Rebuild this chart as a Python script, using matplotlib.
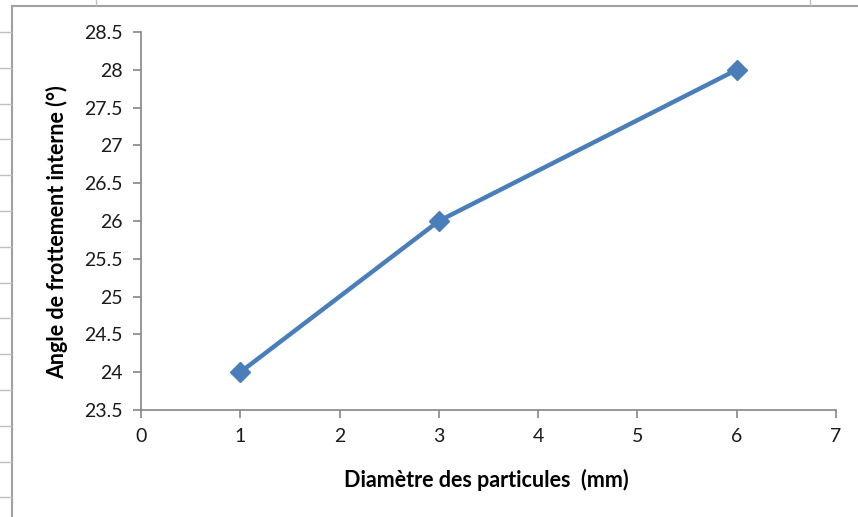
import matplotlib.pyplot as plt
from matplotlib.lines import Line2D

# data
diametre = [1, 3, 6]
angle = [24, 26, 28]
x_ticks = [0, 1, 2, 3, 4, 5, 6, 7]
y_ticks = [23.5, 24, 24.5, 25, 25.5, 26, 26.5, 27, 27.5, 28, 28.5]

plt.rcParams["font.family"] = ["Lato", "DejaVu Sans"]

W, H = 858, 517
fig = plt.figure(figsize=(W / 100, H / 100), dpi=100)
ax = fig.add_axes([141 / W, 1 - 410 / H, (836 - 141) / W, (410 - 32) / H])

ax.plot(diametre, angle, color="#4A7EBB", lw=3.2, marker="D", markersize=10,
        markerfacecolor="#4A7EBB", markeredgecolor="#4A7EBB", clip_on=False)

ax.set_xlim(0, 7)
ax.set_ylim(23.5, 28.5)
ax.set_xticks(x_ticks)
ax.set_yticks(y_ticks)
ax.set_yticklabels([f"{v:g}" for v in y_ticks])

for side in ["top", "right"]:
    ax.spines[side].set_visible(False)
for side in ["left", "bottom"]:
    ax.spines[side].set_color("#868686")
    ax.spines[side].set_linewidth(1.2)
ax.tick_params(direction="out", length=6, width=1.2, color="#868686",
               labelsize=14, labelcolor="#1a1a1a", pad=7)

ax.set_xlabel("Diamètre des particules  (mm)", fontsize=15.5, fontweight="bold")
ax.set_ylabel("Angle de frottement interne (°)", fontsize=15.5, fontweight="bold")
ax.xaxis.set_label_coords(0.497, -0.155)
ax.yaxis.set_label_coords(-0.105, 0.471)

# chart frame and spreadsheet cell borders around it
grid_col = "#BFBFBF"
fig.add_artist(Line2D([12 / W, 12 / W], [0, 1 - 6 / H], color="#A0A0A0", lw=1.5))
fig.add_artist(Line2D([12 / W, 1], [1 - 6 / H, 1 - 6 / H], color="#A0A0A0", lw=1.5))
for k in range(14):
    yy = 1 - (32 + k * 35.8) / H
    fig.add_artist(Line2D([0, 11 / W], [yy, yy], color=grid_col, lw=1))
for xx in [96, 810]:
    fig.add_artist(Line2D([xx / W, xx / W], [1, 1 - 5 / H], color=grid_col, lw=1))

fig.savefig("out.png", dpi=100)
